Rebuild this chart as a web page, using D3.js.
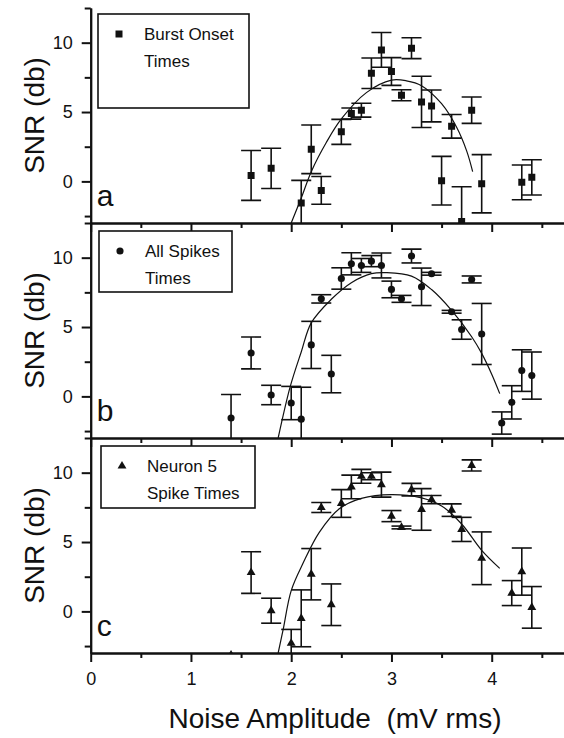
<!DOCTYPE html>
<html>
<head>
<meta charset="utf-8">
<script src="https://cdn.jsdelivr.net/npm/d3@7"></script>
<style>
body { margin: 0; background: #fff; }
svg text { font-family: "Liberation Sans", Arial, sans-serif; fill: #111; }
</style>
</head>
<body>
<div id="chart"></div>
<script>
// values
var xTickValues = [0, 1, 2, 3, 4],
xMinorTicks = [0.5, 1.5, 2.5, 3.5, 4.5],
yTickValues = [0, 5, 10],
yMinorTicks = [-2.5, 2.5, 7.5, 12.5];

var panelLetters = ['a', 'b', 'c'];
var legendLines = [['Burst Onset', 'Times'], ['All Spikes', 'Times'], ['Neuron 5', 'Spike Times']];
var markerTypes = ['square', 'circle', 'triangle'];

// panel a - burst onset times
var burstX = [1.6, 1.8, 2.1, 2.2, 2.3, 2.5, 2.6, 2.7, 2.8, 2.9, 3.0, 3.1, 3.2, 3.3, 3.4, 3.5, 3.6, 3.7, 3.8, 3.9, 4.3, 4.4];
var burstY = [0.43, 0.94, -1.56, 2.31, -0.65, 3.57, 4.89, 5.13, 7.8, 9.48, 7.92, 6.21, 9.6, 5.73, 5.44, 0.05, 3.97, -2.89, 5.13, -0.17, -0.07, 0.29];
var burstErr = [1.8, 1.45, 1.63, 1.75, 1.0, 0.9, 0.4, 0.5, 1.1, 1.25, 1.0, 0.4, 0.75, 1.85, 1.15, 1.75, 0.85, 2.5, 0.95, 2.1, 1.25, 1.27];
var burstFitX = [2.0, 2.1, 2.2, 2.35, 2.5, 2.75, 3.0, 3.15, 3.3, 3.5, 3.65, 3.75, 3.81];
var burstFitY = [-3.0, -1.2, 0.7, 2.8, 4.5, 6.4, 7.3, 7.25, 6.9, 5.6, 3.9, 2.2, 0.7];

// panel b - all spike times
var spikesX = [1.4, 1.6, 1.8, 2.0, 2.1, 2.2, 2.3, 2.4, 2.5, 2.6, 2.7, 2.8, 2.9, 3.0, 3.1, 3.2, 3.3, 3.4, 3.6, 3.7, 3.8, 3.9, 4.1, 4.2, 4.3, 4.4];
var spikesY = [-1.56, 3.13, 0.1, -0.48, -1.64, 3.71, 7.03, 1.61, 8.5, 9.56, 9.44, 9.75, 9.44, 7.71, 7.03, 10.12, 7.9, 8.84, 6.1, 4.82, 8.43, 4.5, -1.92, -0.43, 1.86, 1.5];
var spikesErr = [1.7, 1.15, 0.7, 1.2, 2.3, 1.7, 0.3, 1.35, 0.77, 0.8, 0.5, 0.4, 0.9, 0.6, 0.25, 0.5, 1.35, 0.1, 0.1, 0.7, 0.25, 2.2, 0.8, 1.2, 1.5, 1.7];
var spikesFitX = [1.87, 1.99, 2.1, 2.2, 2.4, 2.6, 2.8, 2.95, 3.2, 3.4, 3.6, 3.8, 3.9, 4.0, 4.08];
var spikesFitY = [-3.0, 0.7, 3.2, 5.3, 7.0, 8.2, 8.85, 8.92, 8.67, 7.7, 6.2, 4.3, 3.1, 1.6, 0.2];

// panel c - neuron 5 spike times
var neuronX = [1.4, 1.6, 1.8, 2.0, 2.1, 2.2, 2.3, 2.4, 2.5, 2.6, 2.7, 2.8, 2.9, 3.0, 3.1, 3.2, 3.3, 3.4, 3.6, 3.7, 3.8, 3.9, 4.2, 4.3, 4.4];
var neuronY = [-3.15, 2.8, 0.05, -2.3, -0.5, 2.68, 7.49, 0.48, 7.78, 8.97, 9.74, 9.74, 9.14, 6.87, 6.05, 8.78, 7.35, 8.06, 7.3, 5.91, 10.52, 3.83, 1.32, 2.87, 0.29];
var neuronErr = [0, 1.5, 0.9, 1.0, 2.05, 1.85, 0.36, 1.5, 1.0, 0.85, 0.5, 0.25, 0.9, 0.4, 0.1, 0.45, 1.5, 0.3, 0.45, 0.87, 0.4, 1.9, 0.9, 1.7, 1.5];
var neuronFitX = [1.87, 1.92, 2.0, 2.12, 2.28, 2.48, 2.7, 3.0, 3.3, 3.5, 3.7, 3.9, 4.08];
var neuronFitY = [-3.0, -1.3, 1.5, 3.5, 5.7, 7.4, 8.15, 8.42, 8.18, 7.6, 6.3, 4.4, 3.1];

var WIDTH = 564, HEIGHT = 738;
var left = 90.7, right = 566.9,
panelTop = 8, panelH = 215;

var panels = [
  {x: burstX, y: burstY, err: burstErr, fx: burstFitX, fy: burstFitY},
  {x: spikesX, y: spikesY, err: spikesErr, fx: spikesFitX, fy: spikesFitY},
  {x: neuronX, y: neuronY, err: neuronErr, fx: neuronFitX, fy: neuronFitY}
];
var legendBoxes = [[98, 14, 151, 94], [99, 231, 133, 61], [101, 446, 154, 62]];

var svg = d3.select('#chart').append('svg')
  .attr('width', WIDTH)
  .attr('height', HEIGHT);

var x = d3.scaleLinear().domain([0, 4.75]).range([left, right]);

var symbolFor = {
  square: d3.symbol().type(d3.symbolSquare).size(49),
  circle: d3.symbol().type(d3.symbolCircle).size(40),
  triangle: d3.symbol().type(d3.symbolTriangle).size(34)
};

panels.forEach(function(p, i) {
  var top = panelTop + i * panelH;
  var y = d3.scaleLinear().domain([-3, 12.5]).range([top + panelH, top]);
  var g = svg.append('g');

  // clip marks to the plotting area
  g.append('clipPath').attr('id', 'clip' + i)
    .append('rect')
    .attr('x', left).attr('y', top)
    .attr('width', right - left).attr('height', panelH);
  var plot = g.append('g').attr('clip-path', 'url(#clip' + i + ')');

  var pts = p.x.map(function(v, k) { return {x: v, y: p.y[k], e: p.err[k]}; });

  // error bars
  var bars = plot.selectAll('.err').data(pts.filter(function(d) { return d.e > 0; }))
    .enter().append('g')
    .attr('stroke', '#111')
    .attr('stroke-width', 1.6)
    .attr('fill', 'none');
  bars.append('line')
    .attr('x1', function(d) { return x(d.x); })
    .attr('x2', function(d) { return x(d.x); })
    .attr('y1', function(d) { return y(d.y - d.e); })
    .attr('y2', function(d) { return y(d.y + d.e); });
  bars.append('line')
    .attr('x1', function(d) { return x(d.x) - 10; })
    .attr('x2', function(d) { return x(d.x) + 10; })
    .attr('y1', function(d) { return y(d.y + d.e); })
    .attr('y2', function(d) { return y(d.y + d.e); });
  bars.append('line')
    .attr('x1', function(d) { return x(d.x) - 10; })
    .attr('x2', function(d) { return x(d.x) + 10; })
    .attr('y1', function(d) { return y(d.y - d.e); })
    .attr('y2', function(d) { return y(d.y - d.e); });

  // fitted curve
  var fit = p.fx.map(function(v, k) { return [v, p.fy[k]]; });
  plot.append('path')
    .datum(fit)
    .attr('fill', 'none')
    .attr('stroke', '#111')
    .attr('stroke-width', 1.2)
    .attr('d', d3.line()
      .x(function(d) { return x(d[0]); })
      .y(function(d) { return y(d[1]); })
      .curve(d3.curveCatmullRom));

  // markers
  plot.selectAll('.pt').data(pts)
    .enter().append('path')
    .attr('transform', function(d) { return 'translate(' + x(d.x) + ',' + y(d.y) + ')'; })
    .attr('d', symbolFor[markerTypes[i]]())
    .attr('fill', '#111');

  // axes, minor ticks first
  g.append('g')
    .attr('transform', 'translate(' + left + ',0)')
    .call(d3.axisLeft(y).tickValues(yMinorTicks).tickSize(6).tickSizeOuter(0).tickFormat(''));
  var yAxis = g.append('g')
    .attr('transform', 'translate(' + left + ',0)')
    .call(d3.axisLeft(y).tickValues(yTickValues).tickSize(9).tickSizeOuter(0).tickPadding(9).tickFormat(d3.format('d')));

  g.append('g')
    .attr('transform', 'translate(0,' + (top + panelH) + ')')
    .call(d3.axisBottom(x).tickValues(xMinorTicks).tickSize(5).tickSizeOuter(0).tickFormat(''));
  var xAxis = g.append('g')
    .attr('transform', 'translate(0,' + (top + panelH) + ')')
    .call(d3.axisBottom(x).tickValues(xTickValues).tickSize(9).tickSizeOuter(0).tickPadding(10).tickFormat(d3.format('d')));
  if (i < 2) xAxis.selectAll('text').remove();

  g.selectAll('.domain, .tick line')
    .attr('stroke', '#111')
    .attr('stroke-width', 2);
  g.selectAll('.tick text')
    .attr('font-size', 18);
  yAxis.attr('font-family', null);
  xAxis.attr('font-family', null);

  // panel letter
  g.append('text')
    .attr('x', left + 6)
    .attr('y', top + panelH - 17)
    .attr('font-size', 30)
    .text(panelLetters[i]);

  // legend
  var lb = legendBoxes[i];
  g.append('rect')
    .attr('x', lb[0]).attr('y', lb[1])
    .attr('width', lb[2]).attr('height', lb[3])
    .attr('fill', '#fff')
    .attr('stroke', '#111')
    .attr('stroke-width', 1.6);
  g.append('path')
    .attr('transform', 'translate(' + (lb[0] + 21) + ',' + (lb[1] + 20) + ')')
    .attr('d', symbolFor[markerTypes[i]]())
    .attr('fill', '#111');
  legendLines[i].forEach(function(t, k) {
    g.append('text')
      .attr('x', lb[0] + 46)
      .attr('y', lb[1] + 26 + k * 27)
      .attr('font-size', 17)
      .text(t);
  });

  // y title
  svg.append('text')
    .attr('transform', 'translate(44,' + (top + panelH / 2) + ') rotate(-90)')
    .attr('text-anchor', 'middle')
    .attr('font-size', 28)
    .text('SNR (db)');
});

svg.append('text')
  .attr('x', 335)
  .attr('y', 728)
  .attr('text-anchor', 'middle')
  .attr('font-size', 28)
  .style('white-space', 'pre')
  .text('Noise Amplitude  (mV rms)');
</script>
</body>
</html>
